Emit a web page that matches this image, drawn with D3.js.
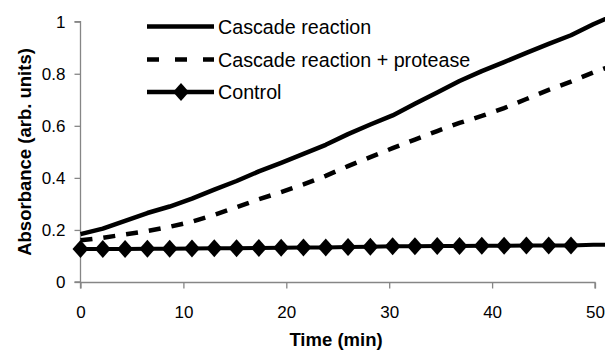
<!DOCTYPE html>
<html>
<head>
<meta charset="utf-8">
<script src="https://cdn.jsdelivr.net/npm/d3@7"></script>
<style>
  body { margin: 0; background: #fff; }
  svg { display: block; font-family: "Liberation Sans", Arial, sans-serif; }
</style>
</head>
<body>
<svg id="chart" width="607" height="353"></svg>
<script>
// time points (min), sampled every 130 s
var times = d3.range(25).map(function (i) { return i * 13 / 6; });

var cascade = [0.184, 0.205, 0.235, 0.265, 0.290, 0.320, 0.355, 0.388, 0.425, 0.458,
  0.492, 0.527, 0.568, 0.605, 0.640, 0.685, 0.728, 0.772, 0.810, 0.845,
  0.880, 0.915, 0.948, 0.990, 1.028];

var cascadeProtease = [0.160, 0.170, 0.183, 0.196, 0.212, 0.232, 0.258, 0.287, 0.318, 0.345,
  0.375, 0.408, 0.445, 0.480, 0.514, 0.547, 0.580, 0.611, 0.638, 0.668,
  0.703, 0.738, 0.770, 0.805, 0.835];

var control = [0.127, 0.127, 0.127, 0.128, 0.128, 0.129, 0.130, 0.130, 0.131, 0.132,
  0.133, 0.133, 0.134, 0.135, 0.137, 0.137, 0.138, 0.138, 0.139, 0.139,
  0.140, 0.140, 0.140, 0.143, 0.144];
var controlMarked = 23; // markers drawn on the first 23 points only

var seriesNames = ["Cascade reaction", "Cascade reaction + protease", "Control"];
var xTicks = [0, 10, 20, 30, 40, 50];
var yTicks = [0, 0.2, 0.4, 0.6, 0.8, 1];

var svg = d3.select("#chart");
var axisColor = "#868686";

var x = d3.scaleLinear().domain([0, 50]).range([80.5, 595]);
var y = d3.scaleLinear().domain([0, 1]).range([282, 21.7]);

// axes
var yAxis = svg.append("g")
    .attr("transform", "translate(80.5,0)")
    .call(d3.axisLeft(y).tickValues(yTicks).tickSize(6).tickPadding(9)
        .tickFormat(function (d) { return d3.format("")(d); }));

var xAxis = svg.append("g")
    .attr("transform", "translate(0,282.5)")
    .call(d3.axisBottom(x).tickValues(xTicks).tickSize(6).tickPadding(17));

[xAxis, yAxis].forEach(function (g) {
    g.select(".domain").attr("stroke", axisColor).attr("stroke-width", 1.3);
    g.selectAll(".tick line").attr("stroke", axisColor).attr("stroke-width", 1.3);
    g.selectAll(".tick text").attr("fill", "#000")
        .style("font-size", "17px").style("font-family", "'Liberation Sans', Arial, sans-serif");
});
// remove domain end caps
yAxis.select(".domain").attr("d", "M-6," + y(1) + "H0V" + y(0) + "H-6");
xAxis.select(".domain").attr("d", "M" + x(0) + ",6V0H" + x(50) + "V6");

// axis titles
svg.append("text")
    .attr("x", 336).attr("y", 346)
    .attr("text-anchor", "middle")
    .style("font-size", "18.5px").style("font-weight", "bold")
    .text("Time (min)");

svg.append("text")
    .attr("transform", "translate(31,152) rotate(-90)")
    .attr("text-anchor", "middle")
    .style("font-size", "18.5px").style("font-weight", "bold")
    .text("Absorbance (arb. units)");

// plot clip (lines run just past the last tick)
svg.append("clipPath").attr("id", "plotclip")
  .append("rect").attr("x", 70).attr("y", 0).attr("width", 535).attr("height", 300);

var plot = svg.append("g").attr("clip-path", "url(#plotclip)");

var line = d3.line()
    .x(function (d, i) { return x(times[i]); })
    .y(function (d) { return y(d); });

plot.append("path")
    .datum(cascade)
    .attr("fill", "none").attr("stroke", "#000")
    .attr("stroke-width", 4.5).attr("stroke-linejoin", "round")
    .attr("d", line);

plot.append("path")
    .datum(cascadeProtease)
    .attr("fill", "none").attr("stroke", "#000")
    .attr("stroke-width", 4.5).attr("stroke-dasharray", "12,11")
    .attr("d", line);

plot.append("path")
    .datum(control)
    .attr("fill", "none").attr("stroke", "#000")
    .attr("stroke-width", 4).attr("stroke-linejoin", "round")
    .attr("d", line);

var diamond = "M0,-9L8,0L0,9L-8,0Z";

plot.selectAll(".marker")
    .data(control.slice(0, controlMarked))
    .enter().append("path")
    .attr("class", "marker")
    .attr("d", diamond)
    .attr("fill", "#000")
    .attr("transform", function (d, i) { return "translate(" + x(times[i]) + "," + y(d) + ")"; });

// legend
var legendY = [26.5, 59.5, 92];
var legend = svg.append("g");
seriesNames.forEach(function (name, i) {
    var ln = legend.append("line")
        .attr("x1", 147).attr("x2", 214)
        .attr("y1", legendY[i]).attr("y2", legendY[i])
        .attr("stroke", "#000").attr("stroke-width", 4.5);
    if (i === 1) ln.attr("stroke-dasharray", "12,16");
    if (i === 2) {
        legend.append("path").attr("d", diamond).attr("fill", "#000")
            .attr("transform", "translate(181," + legendY[i] + ")");
    }
    legend.append("text")
        .attr("x", 218).attr("y", legendY[i] + 7)
        .style("font-size", "19.7px")
        .text(name);
});
</script>
</body>
</html>
